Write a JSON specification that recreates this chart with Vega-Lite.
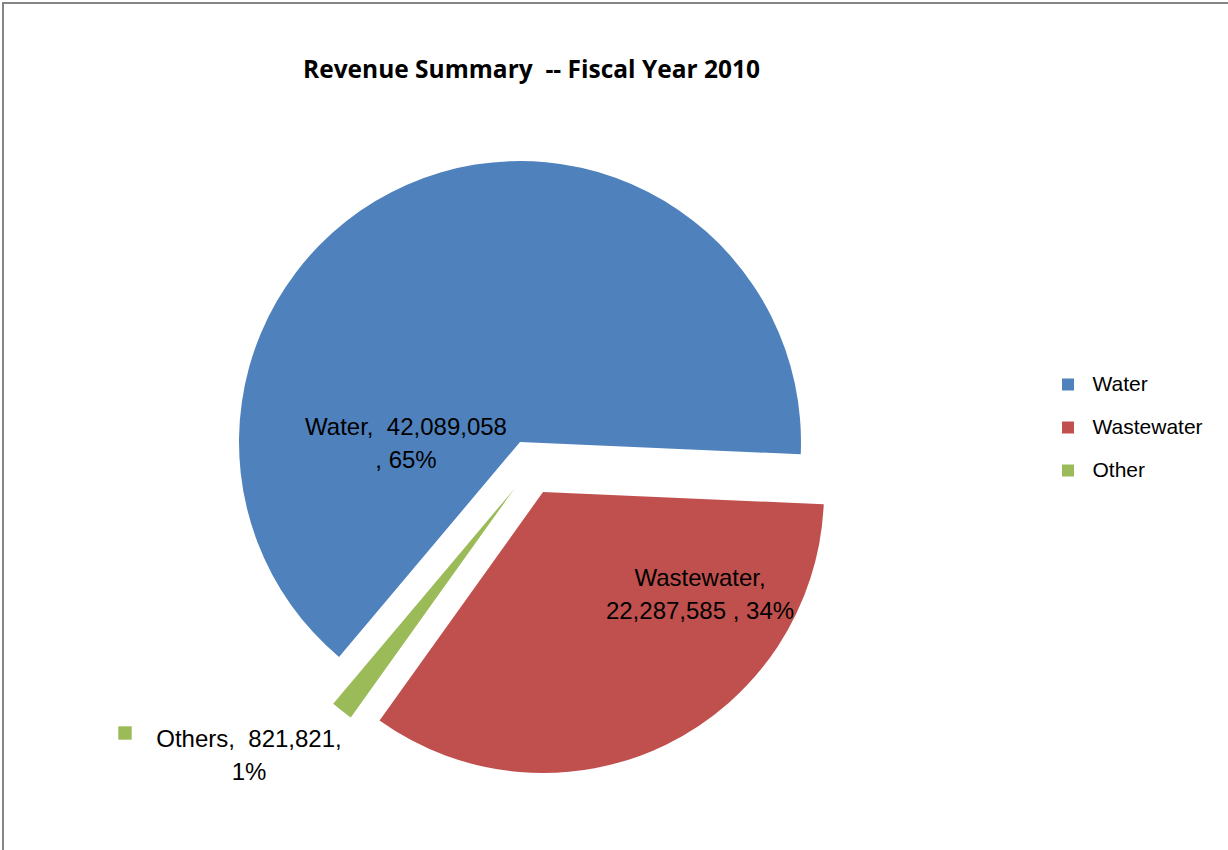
{
  "$schema": "https://vega.github.io/schema/vega-lite/v6.json",
  "width": 1227,
  "height": 849,
  "autosize": "none",
  "padding": {"left": 3, "top": 3, "right": -2, "bottom": -2},
  "background": "white",
  "view": {"stroke": "#858585", "strokeWidth": 2},
  "config": {
    "view": {"stroke": "#858585", "strokeWidth": 2},
    "legend": {
      "orient": "none",
      "legendX": 1054.5,
      "legendY": 371,
      "padding": 0,
      "symbolType": "square",
      "symbolSize": 144,
      "symbolStrokeWidth": 0,
      "labelFont": "Liberation Sans",
      "labelFontSize": 21,
      "labelColor": "#000000",
      "labelOffset": 14,
      "rowPadding": 21,
      "title": null
    }
  },
  "title": {
    "text": "Revenue Summary \u00a0-- Fiscal Year 2010",
    "font": "Open Sans",
    "fontSize": 24.5,
    "fontWeight": "bold",
    "color": "#000000",
    "anchor": "middle",
    "frame": "group",
    "baseline": "alphabetic",
    "offset": -99,
    "dx": -85
  },
  "data": {
    "values": [
      {"category": "Water", "value": 42089058, "label": "Water,\u00a0 42,089,058\n, 65%"},
      {"category": "Wastewater", "value": 22287585, "label": "Wastewater,\n22,287,585 , 34%"},
      {"category": "Other", "value": 821821, "label": "Others,\u00a0 821,821,\n1%"}
    ]
  },
  "transform": [
    {"stack": "value", "groupby": [], "sort": [{"field": "value", "order": "descending"}], "as": ["v0", "v1"]}
  ],
  "layer": [
    {
      "transform": [{"filter": "datum.category === 'Water'"}],
      "mark": {"type": "arc", "outerRadius": 281, "xOffset": -96.5, "yOffset": 14.5},
      "encoding": {
        "theta": {"field": "v0", "type": "quantitative", "scale": {"domain": [0, 65198464], "range": [3.8415, 10.1247]}},
        "theta2": {"field": "v1"},
        "color": {"field": "category", "type": "nominal", "scale": {"domain": ["Water", "Wastewater", "Other"], "range": ["#4F81BD", "#C0504D", "#9BBB59"]}}
      }
    },
    {
      "transform": [{"filter": "datum.category === 'Wastewater'"}],
      "mark": {"type": "arc", "outerRadius": 281, "xOffset": -73.5, "yOffset": 64.5},
      "encoding": {
        "theta": {"field": "v0", "type": "quantitative"},
        "theta2": {"field": "v1"},
        "color": {"field": "category", "type": "nominal"}
      }
    },
    {
      "transform": [{"filter": "datum.category === 'Other'"}],
      "mark": {"type": "arc", "outerRadius": 281, "xOffset": -102.3, "yOffset": 61.4},
      "encoding": {
        "theta": {"field": "v0", "type": "quantitative"},
        "theta2": {"field": "v1"},
        "color": {"field": "category", "type": "nominal"}
      }
    },
    {
      "transform": [{"filter": "datum.category === 'Water'"}],
      "mark": {"type": "text", "align": "center", "baseline": "middle", "lineBreak": "\n", "lineHeight": 33, "font": "Liberation Sans", "fontSize": 24, "color": "#000000", "dx": -210.5, "dy": 0},
      "encoding": {"text": {"field": "label"}}
    },
    {
      "transform": [{"filter": "datum.category === 'Wastewater'"}],
      "mark": {"type": "text", "align": "center", "baseline": "middle", "lineBreak": "\n", "lineHeight": 33, "font": "Liberation Sans", "fontSize": 24, "color": "#000000", "dx": 83.5, "dy": 151.5},
      "encoding": {"text": {"field": "label"}}
    },
    {
      "transform": [{"filter": "datum.category === 'Other'"}],
      "mark": {"type": "text", "align": "center", "baseline": "middle", "lineBreak": "\n", "lineHeight": 33, "font": "Liberation Sans", "fontSize": 24, "color": "#000000", "dx": -367.5, "dy": 312},
      "encoding": {"text": {"field": "label"}}
    },
    {
      "transform": [{"filter": "datum.category === 'Other'"}],
      "mark": {"type": "point", "shape": "square", "filled": true, "size": 180, "strokeWidth": 0, "color": "#9BBB59", "opacity": 1, "xOffset": -491.5, "yOffset": 305.5},
      "encoding": {}
    }
  ]
}
